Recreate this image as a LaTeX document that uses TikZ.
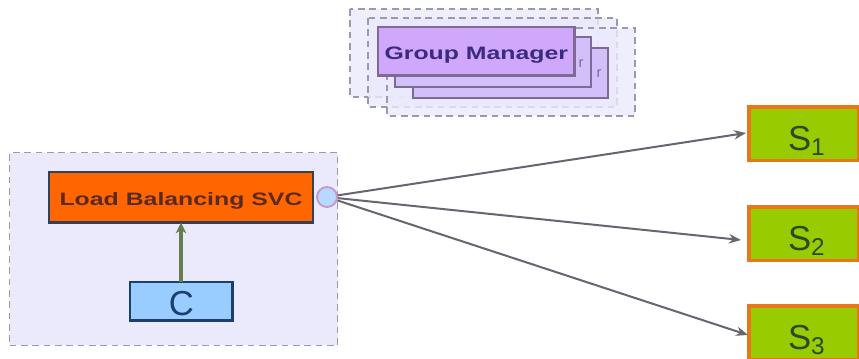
\documentclass[tikz,border=0pt]{standalone}
\usepackage{fontspec}
\setmainfont{Liberation Sans}
\newfontfamily\widebold[FakeStretch=1.38]{Liberation Sans Bold}
\newcommand{\lowered}[2]{\raisebox{-#1}[0pt][0pt]{#2}}
\usetikzlibrary{arrows.meta}
\definecolor{panelfill}{HTML}{EAEAFC}
\definecolor{panelline}{HTML}{9A9AAE}
\definecolor{gmfill}{HTML}{CFA8FC}
\definecolor{gmback}{HTML}{D2C0FA}
\definecolor{gmline}{HTML}{7F6A96}
\definecolor{gmtext}{HTML}{3A2A80}
\definecolor{lbfill}{HTML}{FF6600}
\definecolor{lbline}{HTML}{33405A}
\definecolor{lbtext}{HTML}{5A2A20}
\definecolor{cfill}{HTML}{99CCFF}
\definecolor{cline}{HTML}{1A3F70}
\definecolor{sfill}{HTML}{99CC00}
\definecolor{sline}{HTML}{E8761A}
\definecolor{stext}{HTML}{2A4A30}
\definecolor{arrowgrey}{HTML}{666670}
\definecolor{upgreen}{HTML}{667F4A}
\definecolor{portline}{HTML}{C898C8}
\tikzset{
  x=0.75pt,y=-0.75pt,
  panel/.style={draw=panelline,fill=panelfill,line width=1pt,dash pattern=on 5pt off 3.5pt},
  stackpanel/.style={panel,fill opacity=0.8},
  gmbox/.style={draw=gmline,line width=1.2pt},
  lbl/.style={font=\widebold\fontsize{13.5pt}{15pt}\selectfont},
  server/.style={draw=sline,fill=sfill,line width=2.4pt,anchor=north west,inner sep=0pt,outer sep=0pt,
     minimum width=82.5pt,minimum height=40pt,text=stext,font=\fontsize{26pt}{28pt}\selectfont},
  link/.style={draw=arrowgrey,line width=1.5pt,-{Stealth[length=9pt,width=7pt]}},
}
\begin{document}
\begin{tikzpicture}
\useasboundingbox (0,0) rectangle (859,358);
\fill[white] (0,0) rectangle (859,358);
% group manager stack
\draw[stackpanel] (350,9) rectangle (598,97);
\draw[stackpanel] (368,18) rectangle (617,107);
\draw[stackpanel] (387,28) rectangle (635,116);
\draw[gmbox,fill=gmback] (413,48) rectangle (608,98);
\draw[gmbox,fill=gmback] (395,37) rectangle (591,87);
\node[text=gmline,font=\fontsize{11pt}{13pt}\selectfont] (rb) at (599,74) {r};
\node[text=gmline,font=\fontsize{11pt}{13pt}\selectfont] (ra) at (581,64) {r};
\node[draw=gmline,fill=gmfill,line width=1.8pt,anchor=north west,inner sep=0pt,outer sep=0pt,
  minimum width=147.5pt,minimum height=36.5pt,text=gmtext,lbl] (gm) at (378,27) {\lowered{6.2pt}{Group Manager}};
% left panel
\node[panel,anchor=north west,inner sep=0pt,minimum width=246pt,minimum height=144.5pt] (panel) at (9,152) {};
\node[draw=lbline,fill=lbfill,line width=1.8pt,anchor=north west,inner sep=0pt,outer sep=0pt,
  minimum width=198pt,minimum height=38pt,text=lbtext,lbl] (lb) at (49,172) {\lowered{6pt}{Load Balancing SVC}};
\node[draw=cline,fill=cfill,line width=1.8pt,anchor=north west,inner sep=0pt,outer sep=0pt,
  minimum width=77pt,minimum height=29pt,text=cline,font=\fontsize{26pt}{28pt}\selectfont] (c) at (130,282) {\lowered{10.9pt}{C}};
\draw[upgreen,line width=2.6pt,-{Stealth[length=8pt,width=8pt]}] (c.north -| 181,0) -- (lb.south -| 181,0);
\node[circle,draw=portline,fill=cfill!60!panelfill,line width=1.4pt,minimum size=15pt,inner sep=0pt] (port) at (327,197) {};
% servers
\node[server] (s1) at (749,107) {\hspace*{4pt}\lowered{12.4pt}{S\textsubscript{1}}};
\node[server] (s2) at (749,207) {\hspace*{4pt}\lowered{12.4pt}{S\textsubscript{2}}};
\node[server] (s3) at (749,306) {\hspace*{4pt}\lowered{12.4pt}{S\textsubscript{3}}};
\coordinate (t1) at (746,133);
\coordinate (t2) at (741,240);
\coordinate (t3) at (748,335);
\draw[link] (port) -- (t1);
\draw[link] (port) -- (t2);
\draw[link] (port) -- (t3);
\end{tikzpicture}
\end{document}
